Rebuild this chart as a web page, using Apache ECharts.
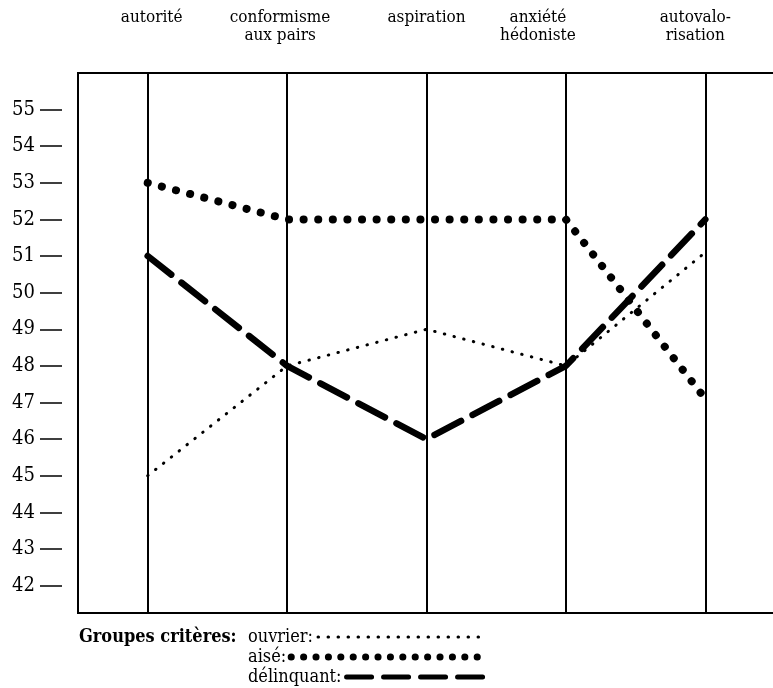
<!DOCTYPE html>
<html>
<head>
<meta charset="utf-8">
<script src="https://cdn.jsdelivr.net/npm/echarts@6/dist/echarts.min.js"></script>
<style>
html,body{margin:0;padding:0;background:#fff;}
#chart{width:773px;height:688px;}
</style>
</head>
<body>
<div id="chart"></div>
<script>
// ---- data ----
const categories = ['autorité', 'conformisme\naux pairs', 'aspiration', 'anxiété\nhédoniste', 'autovalo-\nrisation'];
const yTicks = [42, 43, 44, 45, 46, 47, 48, 49, 50, 51, 52, 53, 54, 55];
const seriesNames = ['ouvrier', 'aisé', 'délinquant'];
const ouvrier = [45, 48, 49, 48, 51.1];
const aise = [53, 52, 52, 52, 47.1];
const delinquant = [51, 48, 46, 48, 52];

// ---- styles ----
const serif = '"DejaVu Serif Condensed", "Liberation Serif", serif';
const labelShift = [4, -7, 0, -28, -10];
const styles = [
  { width: 3, type: [0.5, 9.5], cap: 'round' },
  { width: 8, type: [0.1, 14.5], cap: 'round' },
  { width: 6.5, type: [30, 13], cap: 'round' }
];

const chart = echarts.init(document.getElementById('chart'));

const catData = categories.map((c, i) => {
  const s = labelShift[i];
  return {
    value: c,
    textStyle: { padding: s >= 0 ? [0, 0, 0, 2 * s] : [0, -2 * s, 0, 0] }
  };
});

const seriesValues = [ouvrier, aise, delinquant];

const series = seriesNames.map((n, i) => ({
  name: n,
  type: 'line',
  data: seriesValues[i],
  symbol: 'none',
  silent: true,
  lineStyle: Object.assign({ color: '#000' }, styles[i]),
  z: 3
}));
series[0].markLine = {
  silent: true,
  symbol: 'none',
  label: { show: false },
  lineStyle: { color: '#000', width: 2, type: 'solid' },
  data: categories.map(c => ({ xAxis: c }))
};

const legendTops = [623, 643, 663];
const legendWidths = [168, 188, 142];
const legendLine = [
  { width: 3, type: [0.5, 9.5], cap: 'round' },
  { width: 7, type: [0.1, 12.3], cap: 'round' },
  { width: 5, type: [25, 12], cap: 'round' }
];
const legends = seriesNames.map((n, i) => ({
  data: [n],
  left: 243,
  top: legendTops[i],
  orient: 'horizontal',
  align: 'right',
  itemWidth: legendWidths[i],
  itemHeight: 12,
  formatter: '{name}:',
  selectedMode: false,
  textStyle: { fontFamily: serif, fontSize: 18, color: '#000' },
  lineStyle: Object.assign({ color: '#000' }, legendLine[i]),
  itemStyle: { opacity: 0 }
}));

chart.setOption({
  animation: false,
  backgroundColor: '#fff',
  title: {
    text: 'Groupes critères:',
    left: 74,
    top: 623,
    textStyle: { fontFamily: serif, fontSize: 18, fontWeight: 'bold', color: '#000' }
  },
  legend: legends,
  grid: {
    left: 78, right: -2, top: 73, bottom: 75,
    outerBoundsMode: 'none',
    show: true, borderColor: '#000', borderWidth: 2, backgroundColor: 'transparent'
  },
  xAxis: {
    type: 'category',
    position: 'top',
    boundaryGap: true,
    data: catData,
    axisLine: { show: false },
    axisTick: { show: false },
    splitLine: { show: false },
    axisLabel: {
      interval: 0,
      margin: 28,
      formatter: v => (v.indexOf('\n') >= 0 ? v : v + '\n '),
      fontFamily: serif,
      fontSize: 17,
      lineHeight: 18,
      color: '#000'
    }
  },
  yAxis: {
    type: 'value',
    min: 41.25,
    max: 56,
    offset: 16,
    axisLine: { show: false },
    splitLine: { show: false },
    axisTick: {
      show: true, inside: false, length: 22,
      customValues: yTicks,
      lineStyle: { color: '#000', width: 1.5 }
    },
    axisLabel: {
      customValues: yTicks,
      margin: 27,
      fontFamily: serif,
      fontSize: 20,
      color: '#000'
    }
  },
  series: series
});
</script>
</body>
</html>
